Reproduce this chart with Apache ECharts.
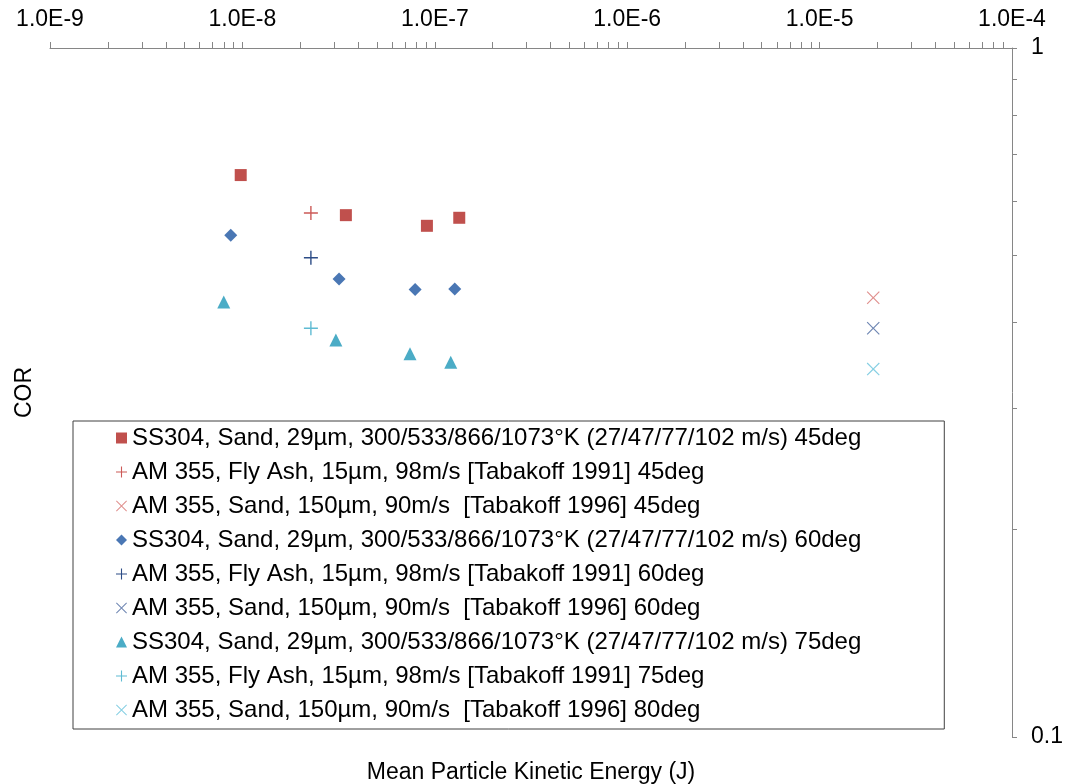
<!DOCTYPE html>
<html>
<head>
<meta charset="utf-8">
<script src="https://cdn.jsdelivr.net/npm/echarts@6/dist/echarts.min.js"></script>
<style>
  html, body { margin: 0; padding: 0; background: #fff; }
  #chart { width: 1068px; height: 784px; }
</style>
</head>
<body>
<div id="chart"></div>
<script>
// Coefficient of restitution vs mean particle kinetic energy

// SS304 target, sand 29 µm, 300/533/866/1073 K
const energySS304_45 = [9.8e-9, 3.45e-8, 9.1e-8, 1.34e-7];
const corSS304_45    = [0.654, 0.572, 0.552, 0.567];
const energySS304_60 = [8.7e-9, 3.18e-8, 7.9e-8, 1.27e-7];
const corSS304_60    = [0.535, 0.462, 0.446, 0.447];
const energySS304_75 = [8.0e-9, 3.06e-8, 7.43e-8, 1.21e-7];
const corSS304_75    = [0.428, 0.377, 0.360, 0.350];

// AM 355, fly ash 15 µm, 98 m/s [Tabakoff 1991]
const energyFlyAsh = [2.27e-8];
const corFlyAsh_45 = [0.576];
const corFlyAsh_60 = [0.496];
const corFlyAsh_75 = [0.392];

// AM 355, sand 150 µm, 90 m/s [Tabakoff 1996]
const energySand150 = [1.9e-5];
const corSand150_45 = [0.434];
const corSand150_60 = [0.392];
const corSand150_80 = [0.342];

const seriesNames = [
  'SS304, Sand, 29µm, 300/533/866/1073°K (27/47/77/102 m/s) 45deg',
  'AM 355, Fly Ash, 15µm, 98m/s [Tabakoff 1991] 45deg',
  'AM 355, Sand, 150µm, 90m/s  [Tabakoff 1996] 45deg',
  'SS304, Sand, 29µm, 300/533/866/1073°K (27/47/77/102 m/s) 60deg',
  'AM 355, Fly Ash, 15µm, 98m/s [Tabakoff 1991] 60deg',
  'AM 355, Sand, 150µm, 90m/s  [Tabakoff 1996] 60deg',
  'SS304, Sand, 29µm, 300/533/866/1073°K (27/47/77/102 m/s) 75deg',
  'AM 355, Fly Ash, 15µm, 98m/s [Tabakoff 1991] 75deg',
  'AM 355, Sand, 150µm, 90m/s  [Tabakoff 1996] 80deg'
];

// Tick positions: 1..9 per decade on x, 0.1..1 on y
const xTickValues = [];
for (let e = -9; e < -4; e++) {
  for (let m = 1; m <= 9; m++) xTickValues.push(m * Math.pow(10, e));
}
xTickValues.push(1e-4);
const yTickValues = [0.1, 0.2, 0.3, 0.4, 0.5, 0.6, 0.7, 0.8, 0.9, 1];

const FONT = 'Liberation Sans, Arial, sans-serif';
const PLUS = 'path://M6.3,0 L7.7,0 L7.7,6.3 L14,6.3 L14,7.7 L7.7,7.7 L7.7,14 L6.3,14 L6.3,7.7 L0,7.7 L0,6.3 L6.3,6.3 Z';
const CROSS = 'path://M0,0.9 L0.9,0 L7,6.1 L13.1,0 L14,0.9 L7.9,7 L14,13.1 L13.1,14 L7,7.9 L0.9,14 L0,13.1 L6.1,7 Z';

function pairs(xs, ys) { return xs.map((x, i) => [x, ys[i]]); }
function ser(i, xs, ys, symbol, size, color) {
  return {
    name: seriesNames[i], type: 'scatter', xAxisIndex: 0, yAxisIndex: 0,
    data: pairs(xs, ys), symbol: symbol, symbolSize: size,
    itemStyle: { color: color, opacity: 1 }, clip: false
  };
}

const axisGray = '#868686';
const chart = echarts.init(document.getElementById('chart'));
chart.setOption({
  backgroundColor: '#fff',
  animation: false,
  grid: { left: 50, right: 56, top: 48, bottom: 47, containLabel: false, outerBoundsMode: 'none' },
  xAxis: [{
    type: 'log', logBase: 10, position: 'top', min: 1e-9, max: 1e-4,
    axisLine: { show: true, lineStyle: { color: axisGray, width: 1 } },
    axisTick: { show: true, inside: false, length: 6, customValues: xTickValues,
      lineStyle: { color: axisGray, width: 1 } },
    axisLabel: { margin: 17, fontSize: 23, fontFamily: FONT, color: '#000',
      formatter: v => Number(v).toExponential(1).toUpperCase() },
    splitLine: { show: false }
  }, {
    type: 'log', logBase: 10, position: 'bottom', min: 1e-9, max: 1e-4,
    axisLine: { show: false }, axisTick: { show: false }, axisLabel: { show: false },
    splitLine: { show: false },
    name: 'Mean Particle Kinetic Energy (J)', nameLocation: 'middle', nameGap: 24,
    nameTextStyle: { fontSize: 23, fontFamily: FONT, color: '#000', verticalAlign: 'top' }
  }],
  yAxis: [{
    type: 'log', logBase: 10, position: 'right', min: 0.1, max: 1,
    axisLine: { show: true, lineStyle: { color: axisGray, width: 1 } },
    axisTick: { show: true, inside: false, length: 5, customValues: yTickValues,
      lineStyle: { color: axisGray, width: 1 } },
    axisLabel: { margin: 19, fontSize: 23, fontFamily: FONT, color: '#000',
      formatter: v => String(Number(Number(v).toPrecision(3))) },
    splitLine: { show: false }
  }, {
    type: 'log', logBase: 10, position: 'left', min: 0.1, max: 1,
    axisLine: { show: false }, axisTick: { show: false }, axisLabel: { show: false },
    splitLine: { show: false },
    name: 'COR', nameLocation: 'middle', nameGap: 14, nameRotate: 90,
    nameTextStyle: { fontSize: 23, fontFamily: FONT, color: '#000' }
  }],
  legend: {
    orient: 'vertical', left: 73, top: 421,
    data: seriesNames,
    itemWidth: 11, itemHeight: 11, itemGap: 10,
    padding: [5, 83, 7, 43],
    backgroundColor: '#fff', borderColor: '#404040', borderWidth: 1,
    textStyle: { fontSize: 24, fontFamily: FONT, color: '#000', lineHeight: 24 },
    selectedMode: false
  },
  series: [
    ser(0, energySS304_45, corSS304_45, 'rect', 12, '#C0504D'),
    ser(1, energyFlyAsh, corFlyAsh_45, PLUS, 14, '#CC5A57'),
    ser(2, energySand150, corSand150_45, CROSS, 13, '#E0908E'),
    ser(3, energySS304_60, corSS304_60, 'diamond', 13, '#4A77B4'),
    ser(4, energyFlyAsh, corFlyAsh_60, PLUS, 14, '#2C4C86'),
    ser(5, energySand150, corSand150_60, CROSS, 13, '#6F87B3'),
    ser(6, energySS304_75, corSS304_75, 'triangle', 13, '#4BACC6'),
    ser(7, energyFlyAsh, corFlyAsh_75, PLUS, 14, '#5FBBD3'),
    ser(8, energySand150, corSand150_80, CROSS, 13, '#86CFE3')
  ]
});
</script>
</body>
</html>
